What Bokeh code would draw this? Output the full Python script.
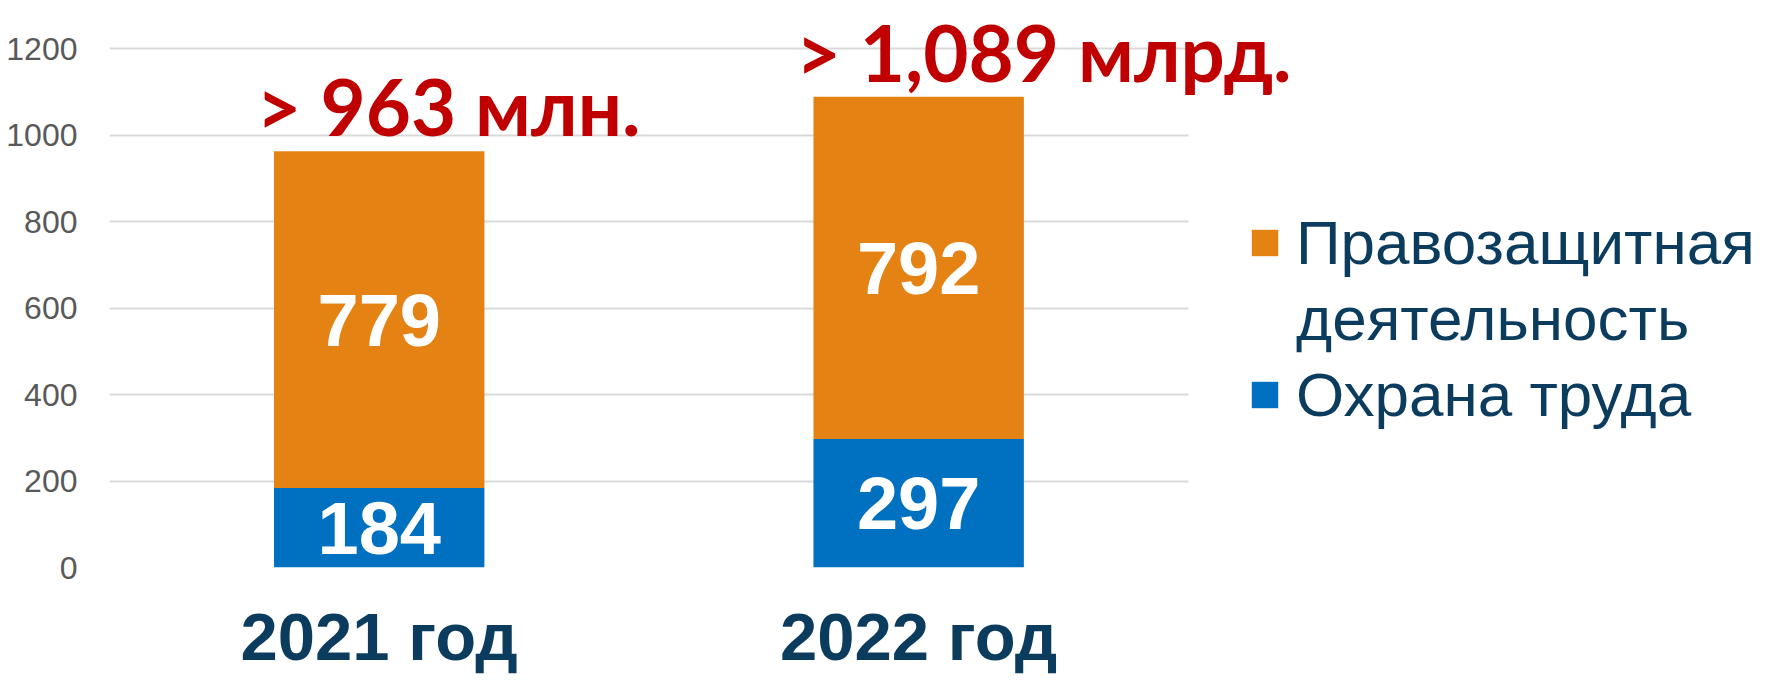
import numpy as np
from bokeh.plotting import figure
from bokeh.models import ColumnDataSource, FixedTicker, Legend, LegendItem, Range1d
from bokeh.core.properties import value
from bokeh.embed import file_html
from bokeh.resources import INLINE

years = ["2021 год", "2022 год"]
ohrana = [184, 297]
pravo = [779, 792]
totals_text = ["> 963 млн.", "> 1,089 млрд."]
legend_lines = ["Правозащитная", "деятельность", "Охрана труда"]
y_ticks = [0, 200, 400, 600, 800, 1000, 1200]

BLUE = "#0070C0"
ORANGE = "#E48213"
RED = "#C00000"
NAVY = "#0B3C5D"

BAR_W = 0.39
xs = np.arange(len(years), dtype=float)
oh = np.array(ohrana, dtype=float)
pr = np.array(pravo, dtype=float)
src = ColumnDataSource(dict(
    x=xs, ohrana=oh, pravo=pr,
    oh_mid=oh / 2, pr_mid=oh + pr / 2, total=oh + pr,
    tot_x=xs - BAR_W / 2 - 0.033,
    oh_txt=[str(v) for v in ohrana], pr_txt=[str(v) for v in pravo],
    tot_txt=totals_text,
))

p = figure(x_range=Range1d(-0.5, 2.555), y_range=Range1d(0, 1300), width=1757, height=678,
           output_backend="svg", toolbar_location=None,
           min_border_left=109, min_border_right=0, min_border_top=5, min_border_bottom=111)
p.outline_line_color = None
p.background_fill_color = "white"

rs = p.vbar_stack(["ohrana", "pravo"], x="x", width=BAR_W, color=[BLUE, ORANGE],
                  line_color=None, source=src)
# invisible renderer used only for the legend's second (wrapped) line
dummy = p.scatter(x=[], y=[], alpha=0)

# value labels inside bars
for ycol, tcol in (("oh_mid", "oh_txt"), ("pr_mid", "pr_txt")):
    p.text(x="x", y=ycol, text=tcol, source=src, text_align="center",
           text_baseline="middle", text_color="white", text_font=value("Liberation Sans"),
           text_font_style="bold", text_font_size="74px")

# totals above bars
p.text(x="tot_x", y="total", text="tot_txt", source=src,
       text_align="left", text_baseline="alphabetic", y_offset=-45,
       text_color=RED, text_font=value("Lato"), text_font_style="bold",
       text_font_size="78px")

# axes
p.yaxis.ticker = FixedTicker(ticks=y_ticks)
p.yaxis.axis_line_color = None
p.yaxis.major_tick_line_color = None
p.yaxis.minor_tick_line_color = None
p.yaxis.major_label_standoff = 26
p.yaxis.major_label_text_font = "Liberation Sans"
p.yaxis.major_label_text_font_size = "32px"
p.yaxis.major_label_text_color = "#595959"

p.xaxis.ticker = FixedTicker(ticks=list(xs))
p.xaxis.major_label_overrides = {float(i): y for i, y in zip(xs, years)}
p.xaxis.axis_line_color = None
p.xaxis.major_tick_line_color = None
p.xaxis.minor_tick_line_color = None
p.xaxis.major_label_standoff = 25
p.xaxis.major_label_text_font = "Liberation Sans"
p.xaxis.major_label_text_font_style = "bold"
p.xaxis.major_label_text_font_size = "67px"
p.xaxis.major_label_text_color = NAVY

p.xgrid.grid_line_color = None
p.ygrid.grid_line_color = "#D9D9D9"
p.ygrid.grid_line_width = 2
p.ygrid.cross_bounds = (-0.5, 1.5)

legend = Legend(items=[LegendItem(label=legend_lines[0], renderers=[rs[1]]),
                       LegendItem(label=legend_lines[1], renderers=[dummy]),
                       LegendItem(label=legend_lines[2], renderers=[rs[0]])],
                location=(1139, 137), orientation="vertical")
legend.border_line_color = None
legend.background_fill_alpha = 0
legend.padding = 0
legend.margin = 0
legend.spacing = 5
legend.glyph_width = 33
legend.glyph_height = 33
legend.label_standoff = 15
legend.label_text_font = "Liberation Sans"
legend.label_text_font_size = "62px"
legend.label_text_color = NAVY
p.add_layout(legend, "center")

open("out.html", "w").write(file_html(p, INLINE))
